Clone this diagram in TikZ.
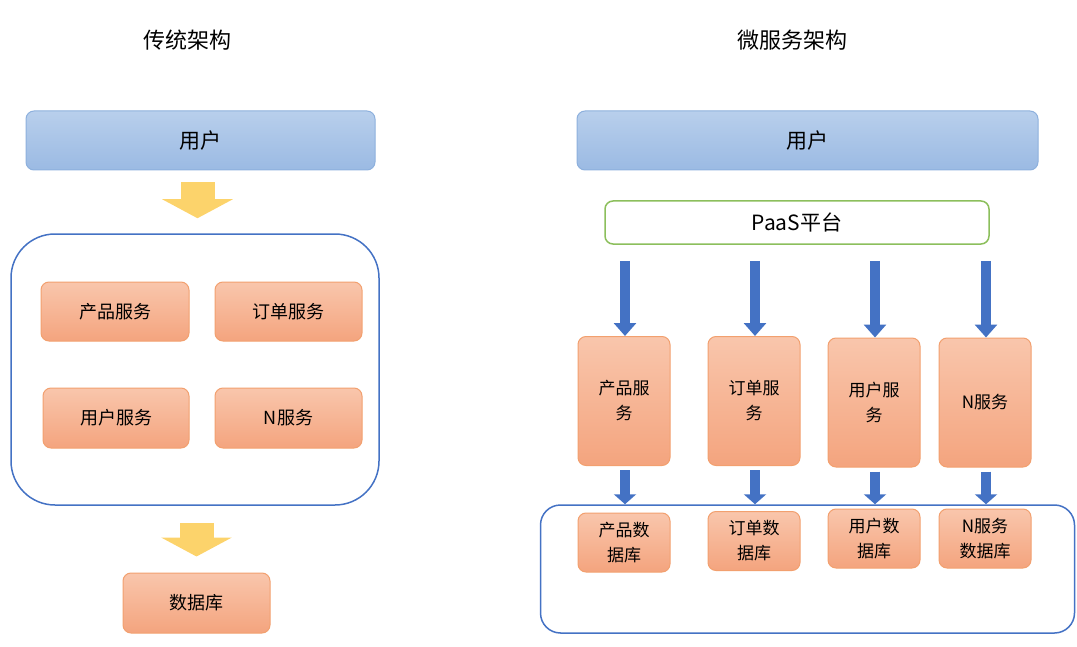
\documentclass[tikz,border=0pt]{standalone}
\usepackage{fontspec}
\setmainfont{Noto Sans CJK SC}
\usetikzlibrary{arrows.meta,calc}
\definecolor{bleuhaut}{HTML}{B8CFEC}
\definecolor{bleubas}{HTML}{9BBAE3}
\definecolor{bordbleu}{HTML}{8DB0DD}
\definecolor{saumonhaut}{HTML}{F9C6AC}
\definecolor{saumonbas}{HTML}{F4A47E}
\definecolor{bordsaumon}{HTML}{F2A06F}
\definecolor{cadre}{HTML}{4472C4}
\definecolor{vert}{HTML}{8CBF5C}
\definecolor{jaune}{HTML}{FCD36B}
\tikzset{
	usager/.style={draw=bordbleu,line width=0.5pt,rounded corners=4pt,top color=bleuhaut,bottom color=bleubas,minimum width=#1,minimum height=29.5pt,font=\fontsize{10.5}{12}\selectfont},
	bloc/.style={draw=bordsaumon,line width=0.5pt,rounded corners=4pt,top color=saumonhaut,bottom color=saumonbas,inner sep=0pt,align=center},
	flechejaune/.style={draw=jaune,line width=17pt,-{Triangle[width=35pt,length=9.5pt]}},
	flechebleue/.style={draw=cadre,line width=5.3pt,-{Triangle[width=11pt,length=#1]}},
}
\begin{document}
\begin{tikzpicture}[x=0.5pt,y=-0.5pt]
	\useasboundingbox (0,0) rectangle (1077,647);
	% architecture traditionnelle
	\node[font=\fontsize{11}{13}\selectfont] (titre1) at (187,40) {传统架构};
	\node[usager=174.5pt] (user1) at (200.5,140.5) {用户};
	\node[draw=cadre,line width=0.75pt,rounded corners=22pt,minimum width=184pt,minimum height=135.5pt] (trad) at (195,369.5) {};
	\node[bloc,minimum width=74pt,minimum height=29.5pt,font=\fontsize{9}{11}\selectfont] (p1) at (115,311.5) {产品服务};
	\node[bloc,minimum width=73.5pt,minimum height=29.5pt,font=\fontsize{9}{11}\selectfont] (o1) at (288.5,311.5) {订单服务};
	\node[bloc,minimum width=73pt,minimum height=30pt,font=\fontsize{9}{11}\selectfont] (u1) at (116,418) {用户服务};
	\node[bloc,minimum width=73.5pt,minimum height=30pt,font=\fontsize{9}{11}\selectfont] (n1) at (288.5,418) {N服务};
	\node[bloc,minimum width=73.5pt,minimum height=30pt,font=\fontsize{9}{11}\selectfont] (db1) at (196.5,603) {数据库};
	\draw[flechejaune] ($(user1.south)+(-3,12)$) -- ($(user1.south |- trad.north)+(-3,-15)$);
	\draw[flechejaune] ($(db1.north |- trad.south)+(0,17)$) -- ($(db1.north)+(0,-16)$);
	% architecture microservices
	\node[font=\fontsize{11}{13}\selectfont] (titre2) at (792,40) {微服务架构};
	\node[usager=230.5pt] (user2) at (807.5,140.5) {用户};
	\node[draw=vert,line width=0.75pt,rounded corners=4pt,minimum width=192pt,minimum height=21.5pt,font=\fontsize{10.5}{12}\selectfont] (paas) at (797,222.5) {PaaS平台};
	\node[draw=cadre,line width=0.75pt,rounded corners=10pt,minimum width=267pt,minimum height=64pt] (micro) at (807.5,569) {};
	\foreach \nom/\x/\y/\txt in {s1/624/401/产品服\\务, s2/754/401/订单服\\务, s3/874/402.5/用户服\\务, s4/985/402.5/N服务}{
		\node[bloc,minimum width=46pt,minimum height=64.5pt,font=\fontsize{8.5}{12.5}\selectfont] (\nom) at (\x,\y) {\txt};}
	\foreach \nom/\x/\y/\txt in {d1/624/542.5/产品数\\据库, d2/754/541/订单数\\据库, d3/874/538.5/用户数\\据库, d4/985/538.5/N服务\\数据库}{
		\node[bloc,minimum width=46pt,minimum height=29.5pt,font=\fontsize{8.5}{12.5}\selectfont] (\nom) at (\x,\y) {\txt};}
	\foreach \s in {s1,s2,s3,s4}{
		\draw[flechebleue=6.5pt] ($(paas.south -| \s.north)+(1,16)$) -- ($(\s.north)+(1,0)$);
		\draw[flechebleue=5pt] ($(\s.south)+(1,4)$) -- ($(\s.south |- micro.north)+(1,0)$);}
\end{tikzpicture}
\end{document}
